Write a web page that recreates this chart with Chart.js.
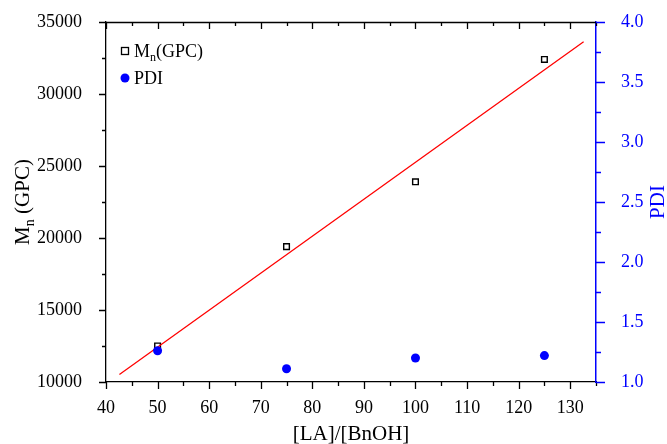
<!DOCTYPE html>
<html>
<head>
<meta charset="utf-8">
<script src="https://cdn.jsdelivr.net/npm/chart.js@4/dist/chart.umd.min.js"></script>
<style>
  html, body { margin: 0; padding: 0; background: #fff; }
  #wrap { width: 667px; height: 444px; }
</style>
</head>
<body>
<div id="wrap"><canvas id="chart"></canvas></div>
<script>
// data
const ratio = [50, 75, 100, 125];
const mnGpc = [12500, 19400, 23900, 32400];
const pdi = [1.26, 1.11, 1.20, 1.22];
const fitX = [42.6, 132.6];
const fitY = [10520, 33630];

const serif = "'Liberation Serif', 'Times New Roman', serif";
const blue = "#0000ff";

// draws axis ticks (major + minor), axis titles and legend
const decorations = {
  id: "decorations",
  afterDraw(chart) {
    const ctx = chart.ctx;
    const a = chart.chartArea;
    const x = chart.scales.x, y = chart.scales.y, y1 = chart.scales.y1;
    ctx.save();
    ctx.lineWidth = 1.3;

    // x ticks: bottom outward, top inward
    ctx.strokeStyle = "#000";
    ctx.beginPath();
    for (let v = 40; v <= 135; v += 5) {
      const px = Math.round(x.getPixelForValue(v)) + 0.5;
      const len = v % 10 === 0 ? 7 : 4;
      ctx.moveTo(px, a.bottom); ctx.lineTo(px, a.bottom + len);
      ctx.moveTo(px, a.top); ctx.lineTo(px, a.top + len);
    }
    // left y ticks outward
    for (let v = 10000; v <= 35000; v += 2500) {
      const py = Math.round(y.getPixelForValue(v)) + 0.5;
      const len = v % 5000 === 0 ? 7 : 4;
      ctx.moveTo(a.left, py); ctx.lineTo(a.left - len, py);
    }
    ctx.stroke();
    // top frame line
    ctx.beginPath();
    ctx.moveTo(a.left, a.top + 0.5); ctx.lineTo(a.right, a.top + 0.5);
    ctx.stroke();

    // right y ticks outward, blue
    ctx.strokeStyle = blue;
    ctx.beginPath();
    for (let v = 1; v <= 4.001; v += 0.25) {
      const py = Math.round(y1.getPixelForValue(v)) + 0.5;
      const len = Math.abs(v * 2 - Math.round(v * 2)) < 1e-6 ? 9 : 5;
      ctx.moveTo(a.right, py); ctx.lineTo(a.right + len, py);
    }
    ctx.stroke();

    // axis titles
    ctx.fillStyle = "#000";
    ctx.font = "21px " + serif;
    ctx.textAlign = "center";
    ctx.textBaseline = "alphabetic";
    ctx.fillText("[LA]/[BnOH]", (a.left + a.right) / 2, 440);

    ctx.save();
    ctx.translate(29, (a.top + a.bottom) / 2);
    ctx.rotate(-Math.PI / 2);
    const big = "21px " + serif, small = "14px " + serif;
    ctx.font = big;
    const wM = ctx.measureText("M").width;
    const wRest = ctx.measureText(" (GPC)").width;
    ctx.font = small;
    const wn = ctx.measureText("n").width;
    let sx = -(wM + wn + wRest) / 2;
    ctx.textAlign = "left";
    ctx.font = big;
    ctx.fillText("M", sx, 0);
    ctx.font = small;
    ctx.fillText("n", sx + wM, 5);
    ctx.font = big;
    ctx.fillText(" (GPC)", sx + wM + wn, 0);
    ctx.restore();

    ctx.save();
    ctx.fillStyle = blue;
    ctx.translate(664, (a.top + a.bottom) / 2);
    ctx.rotate(-Math.PI / 2);
    ctx.font = big;
    ctx.textAlign = "center";
    ctx.fillText("PDI", 0, 0);
    ctx.restore();

    // legend
    ctx.lineWidth = 1.3;
    ctx.strokeStyle = "#000";
    ctx.fillStyle = "#fff";
    ctx.fillRect(121.5, 47.5, 7, 7);
    ctx.strokeRect(121.5, 47.5, 7, 7);
    ctx.fillStyle = "#000";
    ctx.textAlign = "left";
    const lf = "18px " + serif, ls = "12px " + serif;
    ctx.font = lf;
    ctx.fillText("M", 134, 57);
    const w1 = ctx.measureText("M").width;
    ctx.font = ls;
    ctx.fillText("n", 134 + w1, 61);
    const w2 = ctx.measureText("n").width;
    ctx.font = lf;
    ctx.fillText("(GPC)", 134 + w1 + w2, 57);

    ctx.fillStyle = blue;
    ctx.beginPath();
    ctx.arc(125, 78, 4.5, 0, Math.PI * 2);
    ctx.fill();
    ctx.fillStyle = "#000";
    ctx.fillText("PDI", 134, 84);
    ctx.restore();
  }
};

const tickFont = { family: serif, size: 18 };

// fixed axis sizes so the plot area matches the figure
function fixVertical(width) {
  return (s) => { s.width = width; s.paddingTop = 0; s.paddingBottom = 0; };
}

new Chart(document.getElementById("chart"), {
  type: "scatter",
  data: {
    datasets: [
      {
        label: "PDI",
        data: ratio.map((r, i) => ({ x: r, y: pdi[i] })),
        yAxisID: "y1",
        pointStyle: "circle",
        pointRadius: 4.5,
        backgroundColor: blue,
        borderColor: blue,
        borderWidth: 0,
        order: 0
      },
      {
        label: "fit",
        data: fitX.map((r, i) => ({ x: r, y: fitY[i] })),
        yAxisID: "y",
        showLine: true,
        pointRadius: 0,
        borderColor: "#ff0000",
        borderWidth: 1.3,
        order: 1
      },
      {
        label: "Mn(GPC)",
        data: ratio.map((r, i) => ({ x: r, y: mnGpc[i] })),
        yAxisID: "y",
        pointStyle: "rect",
        pointRadius: 4,
        backgroundColor: "#fff",
        borderColor: "#000",
        borderWidth: 1.4,
        order: 2
      }
    ]
  },
  options: {
    responsive: true,
    maintainAspectRatio: false,
    animation: false,
    layout: { padding: { top: 22, left: 0, right: 0, bottom: 0 } },
    plugins: {
      legend: { display: false },
      tooltip: { enabled: false }
    },
    scales: {
      x: {
        type: "linear",
        min: 40,
        max: 135,
        grid: { display: false },
        border: { display: true, color: "#000", width: 1.3 },
        ticks: { stepSize: 10, includeBounds: false, color: "#000", padding: 7, font: tickFont },
        afterFit(s) { s.height = 62; s.paddingLeft = 0; s.paddingRight = 0; }
      },
      y: {
        position: "left",
        min: 10000,
        max: 35000,
        grid: { display: false },
        border: { display: true, color: "#000", width: 1.3 },
        ticks: { stepSize: 5000, color: "#000", padding: 16, font: tickFont, callback: (v) => String(v) },
        afterFit: fixVertical(106)
      },
      y1: {
        position: "right",
        min: 1,
        max: 4,
        grid: { display: false },
        border: { display: true, color: blue, width: 1.5 },
        ticks: {
          stepSize: 0.5, color: blue, padding: 17, font: tickFont,
          callback: (v) => v.toFixed(1)
        },
        afterFit: fixVertical(71)
      }
    }
  },
  plugins: [decorations]
});
</script>
</body>
</html>
